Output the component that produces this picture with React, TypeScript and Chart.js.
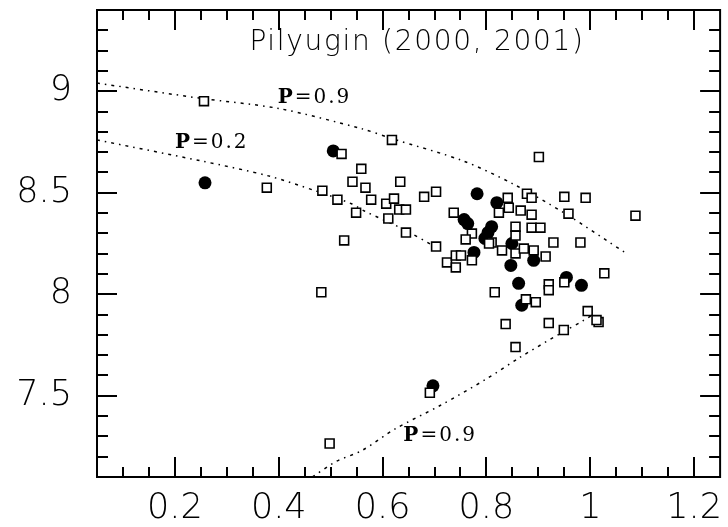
import React, { useEffect, useRef } from "react";
import { Chart, registerables } from "chart.js";

Chart.register(...registerables);

const titleText = "Pilyugin (2000, 2001)";

const xTicks = [0.2, 0.4, 0.6, 0.8, 1, 1.2];
const yTicks = [7.5, 8, 8.5, 9];
const xMin = 0.05;
const xMax = 1.25;
const yMin = 7.1;
const yMax = 9.4;
const xMinorStep = 0.05;
const yMinorStep = 0.1;

// open squares
const squareX = [
  0.256, 0.377, 0.484, 0.521, 0.513, 0.549, 0.526, 0.482, 0.498, 0.691,
  0.559, 0.542, 0.567, 0.634, 0.578, 0.607, 0.622, 0.632, 0.645, 0.611,
  0.618, 0.68, 0.703, 0.737, 0.645, 0.703, 0.841, 0.824, 0.843, 0.866,
  0.887, 0.878, 0.887, 0.856, 0.856, 0.83, 0.856, 0.872, 0.891, 0.914,
  0.887, 0.904, 0.95, 0.991, 0.958, 0.929, 0.981, 1.087, 0.901, 0.772,
  0.76, 0.81, 0.772, 0.724, 0.741, 0.751, 0.741, 0.805, 0.816, 0.876,
  0.895, 0.92, 0.92, 0.95, 1.027, 0.995, 1.016, 1.012, 0.92, 0.949,
  0.837, 0.856,
];
const squareY = [
  8.951, 8.525, 8.51, 8.691, 8.466, 8.402, 8.265, 8.01, 7.265, 7.515,
  8.618, 8.554, 8.525, 8.554, 8.466, 8.446, 8.471, 8.417, 8.417, 8.373,
  8.76, 8.48, 8.505, 8.402, 8.304, 8.235, 8.475, 8.402, 8.426, 8.412,
  8.392, 8.495, 8.475, 8.333, 8.289, 8.216, 8.201, 8.225, 8.216, 8.186,
  8.328, 8.328, 8.48, 8.475, 8.397, 8.255, 8.255, 8.387, 8.676, 8.299,
  8.27, 8.255, 8.167, 8.157, 8.191, 8.191, 8.132, 8.25, 8.01, 7.975,
  7.961, 8.049, 8.02, 8.059, 8.103, 7.917, 7.863, 7.873, 7.858, 7.824,
  7.853, 7.74,
];

// filled circles
const circleX = [
  0.258, 0.505, 0.782, 0.757, 0.764, 0.82, 0.81, 0.803, 0.797, 0.776,
  0.849, 0.847, 0.862, 0.868, 0.891, 0.954, 0.983, 0.697,
];
const circleY = [
  8.549, 8.706, 8.495, 8.368, 8.348, 8.451, 8.333, 8.304, 8.275, 8.206,
  8.25, 8.142, 8.054, 7.946, 8.167, 8.083, 8.044, 7.549,
];

// model curves
const upperP09X = [0.05, 0.25, 0.4, 0.56, 0.62, 0.755, 0.85, 0.95, 1.07];
const upperP09Y = [9.04, 8.965, 8.915, 8.815, 8.765, 8.657, 8.545, 8.4, 8.2];
const p02X = [0.05, 0.25, 0.38, 0.47, 0.54, 0.565, 0.645, 0.71];
const p02Y = [8.76, 8.657, 8.583, 8.51, 8.446, 8.41, 8.314, 8.22];
const lowerP09X = [0.465, 0.51, 0.56, 0.625, 0.71, 0.8, 0.865, 0.947, 0.985, 1.005];
const lowerP09Y = [7.1, 7.176, 7.23, 7.338, 7.451, 7.583, 7.69, 7.814, 7.868, 7.9];

// curve labels (anchor = left edge / baseline, in data units)
const curveLabels = ["P=0.9", "P=0.2", "P=0.9"];
const curveLabelX = [0.398, 0.2, 0.64];
const curveLabelY = [8.941, 8.72, 7.275];

const zip = (xs: number[], ys: number[]) => xs.map((x, i) => ({ x, y: ys[i] }));

const framePlugin = {
  id: "frameTicks",
  afterDraw(chart: any) {
    const { ctx, chartArea: a, scales } = chart;
    const xs = scales.x;
    const ys = scales.y;
    ctx.save();
    ctx.strokeStyle = "#000";
    ctx.lineWidth = 2;
    ctx.lineCap = "butt";
    ctx.strokeRect(a.left, a.top, a.right - a.left, a.bottom - a.top);
    ctx.beginPath();
    const nX = Math.round((xMax - xMin) / xMinorStep);
    for (let i = 1; i < nX; i++) {
      const v = xMin + i * xMinorStep;
      const major = xTicks.some((t) => Math.abs(t - v) < 1e-6);
      const len = major ? 20 : 10;
      const px = Math.round(xs.getPixelForValue(v));
      ctx.moveTo(px, a.bottom);
      ctx.lineTo(px, a.bottom - len);
      ctx.moveTo(px, a.top);
      ctx.lineTo(px, a.top + len);
    }
    const nY = Math.round((yMax - yMin) / yMinorStep);
    for (let i = 1; i < nY; i++) {
      const v = yMin + i * yMinorStep;
      const major = yTicks.some((t) => Math.abs(t - v) < 1e-6);
      const len = major ? 20 : 11;
      const py = Math.round(ys.getPixelForValue(v));
      ctx.moveTo(a.left, py);
      ctx.lineTo(a.left + len, py);
      ctx.moveTo(a.right, py);
      ctx.lineTo(a.right - len, py);
    }
    ctx.stroke();

    // title
    ctx.fillStyle = "#000";
    ctx.font = "200 28px 'DejaVu Sans'";
    ctx.textAlign = "center";
    ctx.textBaseline = "alphabetic";
    (ctx as any).letterSpacing = "1.7px";
    ctx.fillText(titleText, 417, 50);

    // curve labels
    ctx.textAlign = "left";
    (ctx as any).letterSpacing = "2px";
    curveLabels.forEach((txt, i) => {
      const px = xs.getPixelForValue(curveLabelX[i]);
      const py = ys.getPixelForValue(curveLabelY[i]);
      ctx.font = "bold 20px 'DejaVu Serif'";
      ctx.fillText(txt[0], px, py);
      const w = ctx.measureText(txt[0]).width;
      ctx.font = "200 20px 'DejaVu Serif'";
      ctx.fillText(txt.slice(1), px + w, py);
    });
    ctx.restore();
  },
};

export default function App() {
  const ref = useRef<HTMLCanvasElement | null>(null);
  useEffect(() => {
    if (!ref.current) return;
    const tickFont = { family: "'DejaVu Sans'", size: 35, weight: "200" as any };
    const lineDash = [3, 5, 1.5, 5];
    const chart = new Chart(ref.current, {
      type: "scatter",
      data: {
        datasets: [
          {
            label: "squares",
            data: zip(squareX, squareY),
            pointStyle: "rect",
            pointRadius: 6.3,
            borderWidth: 1.6,
            borderColor: "#000",
            backgroundColor: "#fff",
          },
          {
            label: "circles",
            data: zip(circleX, circleY),
            pointStyle: "circle",
            pointRadius: 6.5,
            borderWidth: 0,
            borderColor: "#000",
            backgroundColor: "#000",
          },
          {
            label: "upper P=0.9",
            data: zip(upperP09X, upperP09Y),
            showLine: true,
            pointRadius: 0,
            borderColor: "#000",
            borderWidth: 1.5,
            borderDash: lineDash,
            tension: 0.3,
          } as any,
          {
            label: "P=0.2",
            data: zip(p02X, p02Y),
            showLine: true,
            pointRadius: 0,
            borderColor: "#000",
            borderWidth: 1.5,
            borderDash: lineDash,
            tension: 0.3,
          } as any,
          {
            label: "lower P=0.9",
            data: zip(lowerP09X, lowerP09Y),
            showLine: true,
            pointRadius: 0,
            borderColor: "#000",
            borderWidth: 1.5,
            borderDash: lineDash,
            tension: 0.3,
          } as any,
        ],
      },
      options: {
        responsive: false,
        animation: false,
        layout: { padding: { top: 10, right: 7, left: 0, bottom: 0 } },
        plugins: { legend: { display: false }, tooltip: { enabled: false }, title: { display: false } },
        scales: {
          x: {
            type: "linear",
            min: xMin,
            max: xMax,
            grid: { display: false, drawTicks: false },
            border: { display: false },
            ticks: {
              font: tickFont,
              color: "#000",
              padding: 11,
              maxRotation: 0,
              callback: (v: any) => String(Math.round(Number(v) * 10) / 10),
            },
            afterBuildTicks: (axis: any) => {
              axis.ticks = xTicks.map((value) => ({ value }));
            },
            afterFit: (axis: any) => {
              axis.height = 50;
              axis.paddingLeft = 0;
              axis.paddingRight = 0;
            },
          },
          y: {
            type: "linear",
            min: yMin,
            max: yMax,
            grid: { display: false, drawTicks: false },
            border: { display: false },
            ticks: {
              font: tickFont,
              color: "#000",
              padding: 25,
              callback: (v: any) => String(Math.round(Number(v) * 10) / 10),
            },
            afterBuildTicks: (axis: any) => {
              axis.ticks = yTicks.map((value) => ({ value }));
            },
            afterFit: (axis: any) => {
              axis.width = 97;
              axis.paddingTop = 0;
              axis.paddingBottom = 0;
            },
          },
        },
      } as any,
      plugins: [framePlugin],
    });
    return () => chart.destroy();
  }, []);
  return (
    <div style={{ position: "fixed", left: 0, top: 0, width: 728, height: 527, background: "#fff" }}>
      <canvas ref={ref} width={728} height={527} style={{ width: 728, height: 527, display: "block" }} />
    </div>
  );
}
